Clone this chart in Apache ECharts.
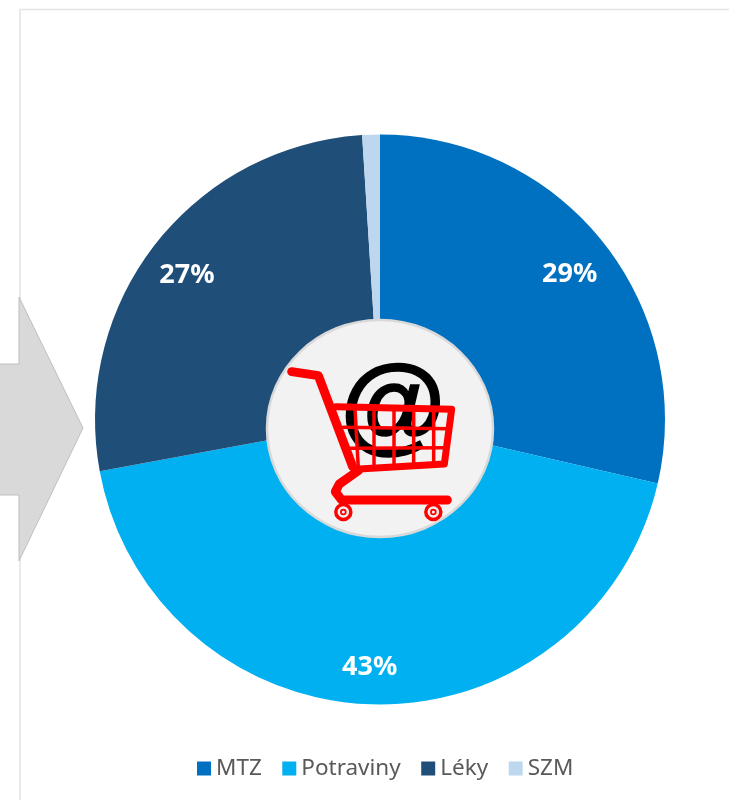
<!DOCTYPE html>
<html><head><meta charset="utf-8">
<style>html,body{margin:0;padding:0;background:#fff}#c{width:729px;height:800px}</style>
<script src="https://cdn.jsdelivr.net/npm/echarts@6/dist/echarts.min.js"></script>
</head><body><div id="c"></div>
<script>
const categories = ['MTZ','Potraviny','Léky','SZM'];
const shares = [28.6,43.5,26.9,1.0];
const shownLabels = ['29%','43%','27%',''];
const colors = ['#0070C0','#00B0F0','#1F4E79','#BDD7EE'];

const RED='#FF0000';
function line(points,width){
  return {type:'polyline',z:102,silent:true,shape:{points:points.map(p=>[260+p[0]/3,310+p[1]/3])},
    style:{fill:null,stroke:RED,lineWidth:width,lineCap:'round',lineJoin:'round'}};
}
function wheel(x){
  return [{type:'circle',z:102,silent:true,shape:{cx:260+x/3,cy:512,r:7.5},style:{fill:'#F2F2F2',stroke:RED,lineWidth:3.5}},
          {type:'circle',z:102,silent:true,shape:{cx:260+x/3,cy:512,r:2.4},style:{fill:'#F2F2F2',stroke:RED,lineWidth:1.8}}];
}
const cart=[
  line([[95,185],[175,197],[278,470]],9),
  line([[295,482],[238,522],[226,545],[245,570],[562,570]],9),
  line([[228,290],[575,298],[553,462],[285,478]],7),
  line([[250,352],[565,356]],3.5),
  line([[272,415],[558,413]],3.5),
  line([[285,296],[295,475]],3.5),
  line([[342,296],[342,472]],3.5),
  line([[402,296],[402,470]],3.5),
  line([[461,296],[461,466]],3.5),
  line([[521,296],[521,464]],3.5),
  ...wheel(250),...wheel(520)
];

const chart=echarts.init(document.getElementById('c'),null,{renderer:'canvas'});
chart.setOption({
  animation:false,
  color:colors,
  legend:{
    data:categories,left:192,top:752,itemWidth:14,itemHeight:14,itemGap:20.5,
    icon:'rect',
    textStyle:{color:'#595959',fontSize:22.5,fontFamily:'Noto Sans',padding:[0,0,0,0]}
  },
  series:[
    {type:'pie',center:[380,419.5],radius:[0,285],startAngle:90,clockwise:true,silent:true,
     label:{show:false},labelLine:{show:false},
     data:categories.map((n,i)=>({name:n,value:shares[i]}))},
    {type:'pie',center:[380,419.5],radius:[199,285],startAngle:90,clockwise:true,silent:true,
     legendHoverLink:false,
     itemStyle:{color:'rgba(0,0,0,0)'},
     label:{show:true,position:'inside',color:'#fff',fontSize:27,fontWeight:'bold',fontFamily:'Noto Sans',
       formatter:p=>shownLabels[p.dataIndex]},
     labelLine:{show:false},
     labelLayout:p=>({dx:[-2,-5,0,0][p.dataIndex],dy:[7,3,7,0][p.dataIndex]}),
     data:categories.map((n,i)=>({name:n,value:shares[i]}))}
  ],
  graphic:{elements:[
    {type:'polyline',z:1,silent:true,shape:{points:[[20,800],[20,9.5],[729,9.5]]},style:{fill:null,stroke:'#E4E4E4',lineWidth:1.5}},
    {type:'polygon',z:5,silent:true,shape:{points:[[-5,364],[19,364],[19,297],[83,428],[19,561],[19,495],[-5,495]]},style:{fill:'#D9D9D9',stroke:'#BFBFBF',lineWidth:1}},
    {type:'ellipse',z:100,silent:true,shape:{cx:380,cy:428.5,rx:113,ry:108.5},style:{fill:'#F2F2F2',stroke:'#D9D9D9',lineWidth:2.5}},
    {type:'text',z:101,silent:true,style:{text:'@',x:393,y:410,align:'center',verticalAlign:'middle',fontSize:108,fontWeight:'bold',fontFamily:'Liberation Sans',fill:'#000',stroke:'#000',lineWidth:1.5}},
    ...cart
  ]}
});
</script></body></html>
